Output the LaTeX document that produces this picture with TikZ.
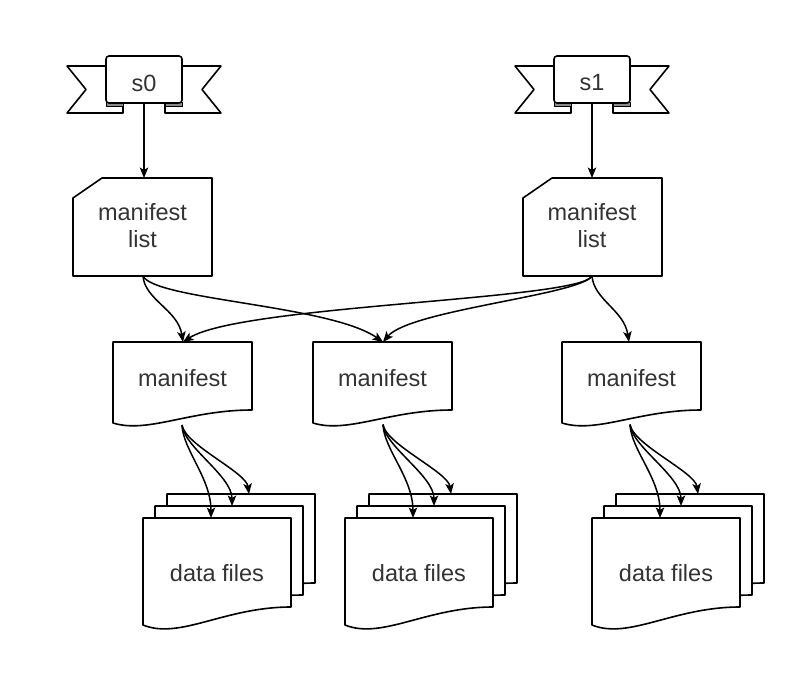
\documentclass[tikz,border=0pt]{standalone}
\usepackage{fontspec}
\setmainfont{Liberation Sans}
\usetikzlibrary{arrows.meta}
\definecolor{txt}{HTML}{333333}
\definecolor{foldgray}{HTML}{8A8A8A}
\tikzset{
  outline/.style={draw=black, line width=1.6pt, fill=white, line join=round},
  lbl/.style={font=\fontsize{23.5}{27}\selectfont, text=txt, align=center, inner sep=0pt},
  conn/.style={draw=black, line width=1.5pt, -{Stealth[length=10.5pt,width=8.5pt,inset=2.5pt]}},
}
% document shape: x, top, width, right-bottom y, left-bottom y
\newcommand\docshape[5]{%
  \path[outline] (#1,#2) -- ({#1+#3},#2) -- ({#1+#3},#4)
    .. controls ({#1+0.55*#3},#4) and ({#1+0.25*#3},{#5+0.83*(#5-#4)}) .. (#1,#5) -- cycle;}
% stack of three documents, front left x
\newcommand\dfstack[1]{%
  \docshape{#1+24}{494}{148}{583}{601}%
  \docshape{#1+12}{506}{148}{595}{613}%
  \docshape{#1}{518}{148}{607}{625}}
% ribbon: centre x
\newcommand\ribbonshape[1]{%
  \path[outline] ({#1-38},66) -- ({#1-77},66) -- ({#1-58},89.5) -- ({#1-77},113) -- ({#1-21},113) -- ({#1-21},100) -- cycle;
  \path[outline] ({#1+38},66) -- ({#1+77},66) -- ({#1+58},89.5) -- ({#1+77},113) -- ({#1+21},113) -- ({#1+21},100) -- cycle;
  \path[draw=black, line width=1pt, fill=foldgray] ({#1-38},103) -- ({#1-38},107) -- ({#1-21},107) -- ({#1-21},103) -- cycle;
  \path[draw=black, line width=1pt, fill=foldgray] ({#1+38},103) -- ({#1+38},107) -- ({#1+21},107) -- ({#1+21},103) -- cycle;
  \path[outline, rounded corners=3pt] ({#1-38},56) rectangle ({#1+38},103);}
% manifest list (card) shape: left x
\newcommand\cardshape[1]{%
  \path[outline] (#1,198) -- ({#1+29},178) -- ({#1+139},178) -- ({#1+139},276) -- (#1,276) -- cycle;}

\begin{document}
\begin{tikzpicture}[x=1pt,y=-1pt]
\useasboundingbox (0,0) rectangle (808,684);

% ---- shapes ----
\ribbonshape{144}
\ribbonshape{592}
\cardshape{73}
\cardshape{523}
\docshape{113}{342}{139}{410}{423}
\docshape{313}{342}{139}{410}{423}
\docshape{562}{342}{139}{410}{423}
\dfstack{143}
\dfstack{345}
\dfstack{592}

% ---- labels ----
\node[lbl] (s0) at (144,83) {s0};
\node[lbl] (s1) at (592,83) {s1};
\node[lbl] (ml1) at (142.5,226) {manifest\\list};
\node[lbl] (ml2) at (592,226) {manifest\\list};
\node[lbl] (m1) at (182.5,378) {manifest};
\node[lbl] (m2) at (382.5,378) {manifest};
\node[lbl] (m3) at (631.5,378) {manifest};
\node[lbl] (df1) at (217,573) {data files};
\node[lbl] (df2) at (419,573) {data files};
\node[lbl] (df3) at (666,573) {data files};

% ---- connector anchors ----
\coordinate (s0-b) at (144,103);
\coordinate (s1-b) at (592,103);
\coordinate (ml1-t) at (144,178);
\coordinate (ml2-t) at (592,178);
\coordinate (ml1-b) at (143,276);
\coordinate (ml2-b) at (592,276);
\coordinate (m1-t) at (183,342);
\coordinate (m2-t) at (383,342);
\coordinate (m3-t) at (629,342);
\coordinate (m1-b) at (182,425);
\coordinate (m2-b) at (383,424.5);
\coordinate (m3-b) at (630,424.5);
\foreach \n/\x in {1/143,2/345,3/592}{
  \coordinate (df\n-a) at (\x+68,518);
  \coordinate (df\n-b) at (\x+89,506);
  \coordinate (df\n-c) at (\x+106,494);
}

% ---- connectors ----
\draw[conn] (s0-b) -- (ml1-t);
\draw[conn] (s1-b) -- (ml2-t);
\draw[conn] (ml1-b) .. controls +(2,24) and +(-5,-32) .. (m1-t);
\draw[conn] (ml1-b) .. controls +(12,24) and +(-53,-37) .. (m2-t);
\draw[conn] (ml2-b) .. controls +(-12,24) and +(57,-37) .. (m1-t);
\draw[conn] (ml2-b) .. controls +(-12,19) and +(27,-32) .. (m2-t);
\draw[conn] (ml2-b) .. controls +(2,24) and +(-5,-32) .. (m3-t);
\foreach \n in {1,2,3}{
  \draw[conn] (m\n-b) .. controls +(1,25) and +(0,-40) .. (df\n-a);
  \draw[conn] (m\n-b) .. controls +(2,22) and +(0,-30) .. (df\n-b);
  \draw[conn] (m\n-b) .. controls +(3,20) and +(-3,-22) .. (df\n-c);
}
\end{tikzpicture}
\end{document}
